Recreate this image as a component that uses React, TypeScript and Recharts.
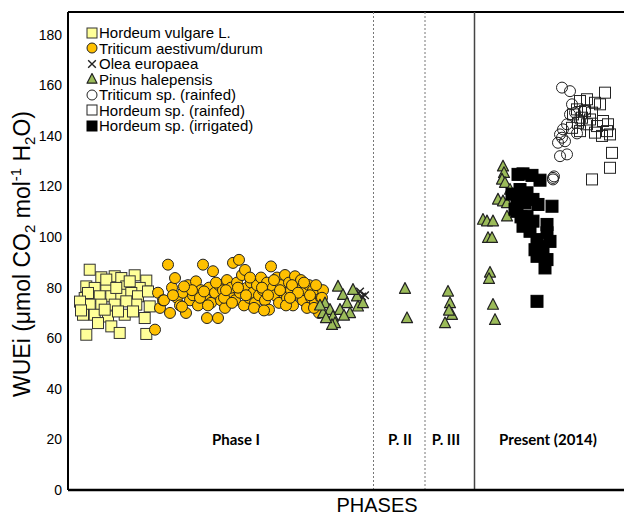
import { ScatterChart, Scatter, XAxis, YAxis, ReferenceLine, ReferenceDot, Legend, Label } from 'recharts'

// x = position along the phase axis (no units, just sample order), y = WUEi
const hordeumVulgare = [
  { x: 21.7, y: 87.1 }, { x: 33.3, y: 84.1 }, { x: 46.7, y: 84.5 }, { x: 53.3, y: 83.8 },
  { x: 66.7, y: 84.9 }, { x: 78.3, y: 82.8 }, { x: 18.3, y: 80.5 }, { x: 26.7, y: 79.9 },
  { x: 38.3, y: 79.9 }, { x: 58.3, y: 80.5 }, { x: 71.7, y: 79.9 }, { x: 16.7, y: 75.9 },
  { x: 25, y: 75.9 }, { x: 31.7, y: 76.6 }, { x: 43.3, y: 76.6 }, { x: 53.3, y: 77.2 },
  { x: 63.3, y: 77.9 }, { x: 70, y: 76.6 }, { x: 80, y: 78.5 }, { x: 21.7, y: 73.3 },
  { x: 33.3, y: 73.3 }, { x: 46.7, y: 73.3 }, { x: 68.3, y: 73.3 }, { x: 15, y: 69.3 },
  { x: 26.7, y: 69.3 }, { x: 40, y: 68.6 }, { x: 56.7, y: 69.3 }, { x: 76.7, y: 68 },
  { x: 30, y: 66 }, { x: 43.3, y: 64.7 }, { x: 51.7, y: 62.1 }, { x: 18.3, y: 61.4 },
  { x: 78.3, y: 61.7 }, { x: 38.3, y: 83.2 }, { x: 61.7, y: 82.5 }, { x: 20, y: 77.9 },
  { x: 48.3, y: 79.9 }, { x: 58.3, y: 74.6 }, { x: 36.7, y: 71.3 }, { x: 50, y: 70.6 },
  { x: 81.7, y: 72.6 }, { x: 65, y: 70.6 }, { x: 12, y: 74.5 }, { x: 13, y: 71 },
]

const triticum = [
  { x: 87, y: 63.4 }, { x: 92, y: 72 }, { x: 90, y: 78 }, { x: 95, y: 75 }, { x: 100, y: 89.1 },
  { x: 102, y: 70 }, { x: 104, y: 80 }, { x: 107, y: 83.8 }, { x: 109, y: 76 }, { x: 112, y: 73 },
  { x: 115, y: 78 }, { x: 118, y: 70 }, { x: 120, y: 81 }, { x: 122, y: 75 }, { x: 125, y: 77 },
  { x: 128, y: 82.5 }, { x: 130, y: 73 }, { x: 133, y: 79 }, { x: 135, y: 89.1 }, { x: 137, y: 76 },
  { x: 139, y: 68 }, { x: 141, y: 80 }, { x: 143, y: 74 }, { x: 145, y: 86.5 }, { x: 147, y: 78 },
  { x: 150, y: 68 }, { x: 151, y: 81 }, { x: 153, y: 75 }, { x: 155, y: 79 }, { x: 157, y: 72 },
  { x: 159, y: 83 }, { x: 161, y: 77 }, { x: 163, y: 80 }, { x: 165, y: 89.8 }, { x: 167, y: 75 },
  { x: 169, y: 82 }, { x: 171, y: 91 }, { x: 172, y: 78 }, { x: 174, y: 85 }, { x: 176, y: 73 },
  { x: 177, y: 87 }, { x: 179, y: 80 }, { x: 181, y: 76 }, { x: 183, y: 82 }, { x: 185, y: 78 },
  { x: 187, y: 74 }, { x: 189, y: 81 }, { x: 191, y: 77 }, { x: 193, y: 84 }, { x: 195, y: 79 },
  { x: 197, y: 75 }, { x: 199, y: 82 }, { x: 201, y: 71.3 }, { x: 203, y: 88.4 }, { x: 205, y: 80 },
  { x: 207, y: 77 }, { x: 209, y: 84 }, { x: 211, y: 74 }, { x: 213, y: 81 }, { x: 215, y: 78 },
  { x: 217, y: 85 }, { x: 219, y: 76 }, { x: 221, y: 82 }, { x: 223, y: 79 }, { x: 225, y: 73 },
  { x: 227, y: 84.5 }, { x: 229, y: 80 }, { x: 231, y: 77 }, { x: 233, y: 83 }, { x: 235, y: 75 },
  { x: 237, y: 79 }, { x: 239, y: 72 }, { x: 241, y: 81 }, { x: 243, y: 76 }, { x: 245, y: 79 },
  { x: 247, y: 74 }, { x: 249, y: 78 }, { x: 251, y: 70 }, { x: 253, y: 76 }, { x: 255, y: 79 },
  { x: 96, y: 75 }, { x: 105, y: 77 }, { x: 114, y: 72.5 }, { x: 124, y: 79 }, { x: 132, y: 76 },
  { x: 140, y: 73 }, { x: 148, y: 82 }, { x: 156, y: 76 }, { x: 164, y: 74 }, { x: 170, y: 80 },
  { x: 178, y: 77 }, { x: 186, y: 72 }, { x: 194, y: 80 }, { x: 200, y: 77 }, { x: 206, y: 83 },
  { x: 212, y: 79 }, { x: 218, y: 73 }, { x: 224, y: 81 }, { x: 230, y: 78 }, { x: 236, y: 82 },
  { x: 242, y: 77 }, { x: 248, y: 81 }, { x: 254, y: 76 }, { x: 116, y: 80.5 }, { x: 136, y: 78.5 },
  { x: 158, y: 79 }, { x: 182, y: 84 }, { x: 196, y: 71 }, { x: 222, y: 76 }, { x: 246, y: 72 },
]

const olea = [
  { x: 289, y: 77.5 }, { x: 292, y: 78.5 }, { x: 294, y: 76.5 }, { x: 297, y: 77 },
]

const pinus = [
  // phase I
  { x: 270, y: 80.5 }, { x: 257, y: 73.9 }, { x: 262, y: 71.3 }, { x: 265, y: 68.6 },
  { x: 275, y: 77.2 }, { x: 279, y: 73.9 }, { x: 282, y: 70 }, { x: 289, y: 76.6 },
  { x: 290, y: 72.6 }, { x: 285, y: 79.2 }, { x: 255, y: 70 }, { x: 267, y: 66 },
  { x: 272, y: 71.3 }, { x: 276, y: 69 }, { x: 264, y: 65.3 }, { x: 295, y: 73.9 },
  { x: 252, y: 73 }, { x: 258, y: 68 },
  // P. II
  { x: 337, y: 79.6 }, { x: 339, y: 68 },
  // P. III
  { x: 380, y: 78.5 }, { x: 382, y: 73.9 }, { x: 384, y: 69.3 }, { x: 377, y: 66 }, { x: 381, y: 71 },
  // present
  { x: 435, y: 128 }, { x: 436, y: 125.4 }, { x: 434, y: 122.8 }, { x: 437, y: 121.5 },
  { x: 442, y: 118.8 }, { x: 430, y: 114.9 }, { x: 435, y: 114.2 }, { x: 439, y: 113.5 },
  { x: 439, y: 108.2 }, { x: 415, y: 106.9 }, { x: 419, y: 106.3 }, { x: 425, y: 106.3 },
  { x: 420, y: 99.7 }, { x: 424, y: 99.7 }, { x: 422, y: 86 }, { x: 421, y: 83.5 },
  { x: 425, y: 73.3 }, { x: 427, y: 67.3 },
]

const triticumRainfed = [
  { x: 494, y: 159.1 }, { x: 502, y: 157.7 }, { x: 504, y: 152.5 }, { x: 502, y: 148.5 },
  { x: 499, y: 144.6 }, { x: 495, y: 142.6 }, { x: 492, y: 140.6 }, { x: 494, y: 139.3 },
  { x: 490, y: 137.3 }, { x: 497, y: 137.9 }, { x: 492, y: 132 }, { x: 499, y: 132.7 },
  { x: 485, y: 123.4 }, { x: 485, y: 122.8 }, { x: 486, y: 124 }, { x: 507, y: 149.2 },
  { x: 512, y: 146 }, { x: 517, y: 150 }, { x: 509, y: 141 },
]

const hordeumRainfed = [
  { x: 537, y: 157.1 }, { x: 519, y: 154.5 }, { x: 512, y: 153.8 }, { x: 527, y: 153.1 },
  { x: 532, y: 152.5 }, { x: 509, y: 150.5 }, { x: 517, y: 149.8 }, { x: 524, y: 149.2 },
  { x: 505, y: 148.5 }, { x: 514, y: 147.2 }, { x: 522, y: 146.5 }, { x: 535, y: 145.9 },
  { x: 510, y: 145.2 }, { x: 519, y: 144.6 }, { x: 529, y: 143.9 }, { x: 540, y: 144.6 },
  { x: 512, y: 141.9 }, { x: 527, y: 141.3 }, { x: 539, y: 141.9 }, { x: 542, y: 140.6 },
  { x: 534, y: 140 }, { x: 544, y: 133.3 }, { x: 542, y: 127.4 }, { x: 524, y: 122.8 },
  { x: 504, y: 143.2 },
]

const hordeumIrrigated = [
  { x: 450, y: 124.8 }, { x: 464, y: 124.4 }, { x: 452, y: 118.8 }, { x: 459, y: 117.5 },
  { x: 449, y: 114.9 }, { x: 457, y: 113.5 }, { x: 465, y: 114.9 }, { x: 470, y: 112.9 },
  { x: 484, y: 112.2 }, { x: 449, y: 110.2 }, { x: 459, y: 108.2 }, { x: 465, y: 106.3 },
  { x: 479, y: 105 }, { x: 455, y: 104.3 }, { x: 462, y: 102.3 }, { x: 479, y: 101.7 },
  { x: 469, y: 99 }, { x: 482, y: 98.3 }, { x: 474, y: 96.4 }, { x: 467, y: 95 },
  { x: 475, y: 93.7 }, { x: 469, y: 92.4 }, { x: 479, y: 91.1 }, { x: 477, y: 87.8 },
  { x: 469, y: 74.6 }, { x: 455, y: 125 }, { x: 472, y: 122.5 }, { x: 444, y: 117 },
  { x: 447, y: 111 }, { x: 453, y: 108 },
]

const phaseNames = ['Phase I', 'P. II', 'P. III', 'Present (2014)']
const phaseLabelX = [168, 332, 378, 480]
const dottedDividers = [305.5, 357]
const solidDivider = 406.5
const yTicks = [0, 20, 40, 60, 80, 100, 120, 140, 160, 180]

const ARIAL = '"Liberation Sans", Arial, sans-serif'

function drawMarker(kind: string, cx: number, cy: number, fill: string, stroke: string, size: number) {
  const h = size / 2
  if (kind === 'square') {
    return <rect x={cx - h} y={cy - h} width={size} height={size} fill={fill} stroke={stroke} strokeWidth={1} />
  }
  if (kind === 'circle') {
    return <circle cx={cx} cy={cy} r={h} fill={fill} stroke={stroke} strokeWidth={1} />
  }
  if (kind === 'triangle') {
    const pts = `${cx},${cy - size * 0.55} ${cx - h},${cy + size * 0.42} ${cx + h},${cy + size * 0.42}`
    return <polygon points={pts} fill={fill} stroke={stroke} strokeWidth={1.2} strokeLinejoin="round" />
  }
  const s = h * 0.85
  return (
    <path
      d={`M${cx - s},${cy - s}L${cx + s},${cy + s}M${cx + s},${cy - s}L${cx - s},${cy + s}`}
      stroke={stroke}
      strokeWidth={1.4}
      fill="none"
    />
  )
}

const SERIES = [
  { name: 'Hordeum vulgare L.', data: hordeumVulgare, kind: 'square', fill: '#FFFF99', stroke: '#333', size: 11 },
  { name: 'Triticum aestivum/durum', data: triticum, kind: 'circle', fill: '#FFC000', stroke: '#222', size: 11 },
  { name: 'Olea europaea', data: olea, kind: 'cross', fill: 'none', stroke: '#222', size: 9 },
  { name: 'Pinus halepensis', data: pinus, kind: 'triangle', fill: '#9BBB59', stroke: '#222', size: 11 },
  { name: 'Triticum sp. (rainfed)', data: triticumRainfed, kind: 'circle', fill: 'none', stroke: '#222', size: 11 },
  { name: 'Hordeum sp. (rainfed)', data: hordeumRainfed, kind: 'square', fill: 'none', stroke: '#222', size: 11 },
  { name: 'Hordeum sp. (irrigated)', data: hordeumIrrigated, kind: 'square', fill: '#000', stroke: '#000', size: 12 },
]

function LegendBox() {
  return (
    <div style={{ fontFamily: ARIAL, fontSize: 15, color: '#000' }}>
      {SERIES.map(s => (
        <div key={s.name} style={{ display: 'flex', alignItems: 'center', height: 15.5, whiteSpace: 'nowrap' }}>
          <svg width={12} height={12} style={{ flex: 'none' }}>
            {drawMarker(s.kind, 6, 6, s.fill, s.stroke, s.kind === 'cross' ? 9 : 10)}
          </svg>
          <span style={{ marginLeft: 1 }}>{s.name}</span>
        </div>
      ))}
    </div>
  )
}

function YTitle(props: any) {
  const vb = props.viewBox
  const x = vb.x + 22
  const y = vb.y + vb.height / 2 + 3
  return (
    <text transform={`translate(${x},${y}) rotate(-90)`} textAnchor="middle" fontFamily={ARIAL} fontSize={23} fill="#000">
      WUEi (μmol CO<tspan fontSize={15} dy={5}>2</tspan>
      <tspan dy={-5}> mol</tspan>
      <tspan fontSize={15} dy={-9}>-1</tspan>
      <tspan dy={9}> H</tspan>
      <tspan fontSize={15} dy={5}>2</tspan>
      <tspan dy={-5}>O)</tspan>
    </text>
  )
}

function XTitle(props: any) {
  const vb = props.viewBox
  return (
    <text x={vb.x + vb.width / 2} y={vb.y + 22} textAnchor="middle" fontFamily={ARIAL} fontSize={20} fill="#000">
      PHASES
    </text>
  )
}

export default function App() {
  return (
    <div style={{ position: 'fixed', left: 0, top: 0, width: 624, height: 517, overflow: 'hidden', background: '#fff' }}>
      <div style={{ position: 'absolute', left: 8, top: 8 }}>
        <ScatterChart width={690} height={509} margin={{ top: 4, right: 12, bottom: 0, left: 0 }}>
          <XAxis
            type="number"
            dataKey="x"
            domain={[0, 618]}
            tick={false}
            tickLine={false}
            height={27}
            axisLine={{ stroke: '#000', strokeWidth: 2.5 }}
          >
            <Label content={XTitle} />
          </XAxis>
          <YAxis
            type="number"
            dataKey="y"
            domain={[0, 189]}
            ticks={yTicks}
            width={60}
            tickLine={false}
            tickSize={4}
            tickMargin={2}
            axisLine={{ stroke: '#000', strokeWidth: 2 }}
            tick={{ fill: '#000', fontSize: 14, fontFamily: ARIAL }}
          >
            <Label content={YTitle} />
          </YAxis>
          <ReferenceLine y={189} stroke="#000" strokeWidth={2} />
          {dottedDividers.map(d => (
            <ReferenceLine key={d} x={d} stroke="#777" strokeWidth={1} strokeDasharray="2 2" />
          ))}
          <ReferenceLine x={solidDivider} stroke="#444" strokeWidth={1.5} />
          {phaseNames.map((name, i) => (
            <ReferenceDot
              key={name}
              x={phaseLabelX[i]}
              y={20}
              r={0}
              fill="none"
              stroke="none"
              label={{ value: name, position: 'center', fill: '#000', fontSize: 15, fontWeight: 700, fontFamily: 'Lato, sans-serif' }}
            />
          ))}
          {SERIES.map(s => (
            <Scatter
              key={s.name}
              name={s.name}
              data={s.data}
              isAnimationActive={false}
              shape={(p: any) => drawMarker(s.kind, p.cx, p.cy, s.fill, s.stroke, s.size)}
            />
          ))}
          <Legend
            layout="vertical"
            align="center"
            verticalAlign="middle"
            content={<LegendBox />}
            wrapperStyle={{ left: 78, top: 17, width: 260, height: 'auto' }}
          />
        </ScatterChart>
      </div>
    </div>
  )
}
